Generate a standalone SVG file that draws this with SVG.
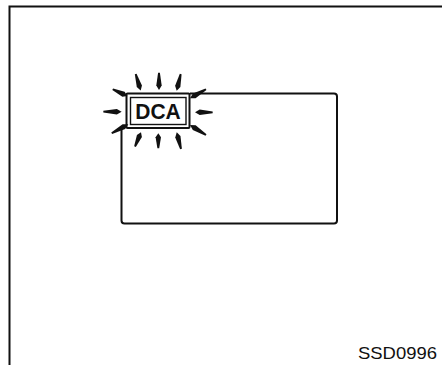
<svg xmlns="http://www.w3.org/2000/svg" width="442" height="365" viewBox="0 0 442 365">
<style>
.ln{fill:none;stroke:#111;stroke-width:2}
.thin{fill:none;stroke:#111;stroke-width:1.4}
.ray{fill:#111}
.lbl{font-family:"Liberation Sans",Arial,sans-serif;fill:#111}
</style>
<defs>
<path id="ray" d="M0,-0.9 L12.5,-2.7 L17,0 L12.5,2.7 L0,0.9 Z"/>
</defs>
<rect width="442" height="365" fill="#fff"/>
<g id="frame">
<path class="ln" d="M9.5,365 V6.5 H442" stroke-width="2.2"/>
</g>
<g id="display">
<path class="ln" d="M190,93.5 H334 Q337,93.5 337,96.5 V220.5 Q337,223.5 334,223.5 H124.5 Q121.5,223.5 121.5,220.5 V128"/>
</g>
<g id="dca">
<rect class="ln" x="126.5" y="93.5" width="63" height="34.5" rx="1"/>
<rect class="thin" x="130.5" y="97.5" width="55.5" height="27"/>
<text class="lbl" x="158" y="118.5" font-size="22" font-weight="bold" text-anchor="middle" textLength="45.5" lengthAdjust="spacingAndGlyphs">DCA</text>
</g>
<g id="rays" class="ray">
<use href="#ray" transform="translate(135.7,74) rotate(73.3) scale(1.02,1)"/>
<use href="#ray" transform="translate(159,72.7) rotate(90) scale(1.02,1)"/>
<use href="#ray" transform="translate(180.7,74) rotate(103.5) scale(1.01,1)"/>
<use href="#ray" transform="translate(112.7,89.3) rotate(24.6) scale(0.95,1)"/>
<use href="#ray" transform="translate(103.3,111.7) rotate(0) scale(1.08,1)"/>
<use href="#ray" transform="translate(111.7,133.3) rotate(-28.5) scale(1.11,1)"/>
<use href="#ray" transform="translate(206,89.3) rotate(150.6) scale(1.08,1)"/>
<use href="#ray" transform="translate(212.7,112.3) rotate(180) scale(1.04,1)"/>
<use href="#ray" transform="translate(206,135) rotate(-148) scale(1.11,1)"/>
<use href="#ray" transform="translate(135,146.7) rotate(-67.4) scale(0.92,1)"/>
<use href="#ray" transform="translate(158.3,148.3) rotate(-90) scale(0.88,1)"/>
<use href="#ray" transform="translate(181,149) rotate(-104.4) scale(1.01,1)"/>
</g>
<text class="lbl" x="437" y="359.3" font-size="17" text-anchor="end" textLength="79" lengthAdjust="spacingAndGlyphs">SSD0996</text>
</svg>
